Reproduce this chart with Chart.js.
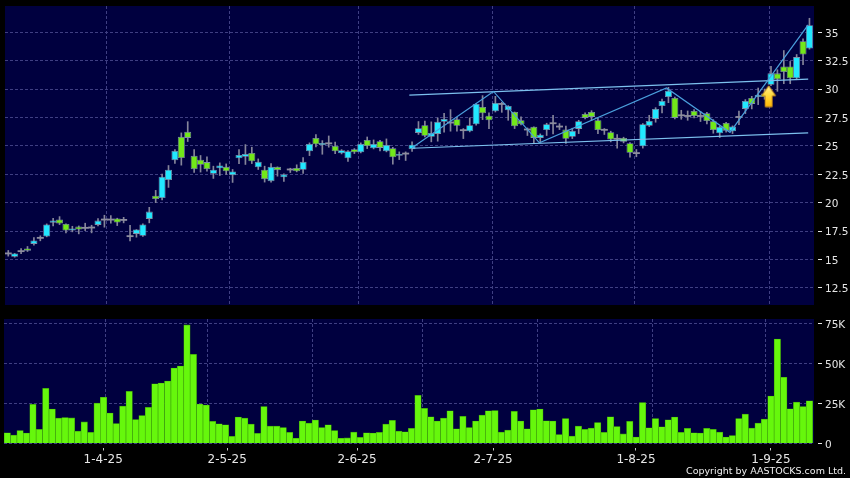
<!DOCTYPE html>
<html lang="en">
<head>
  <meta charset="UTF-8">
  <title>AASTOCKS chart</title>
  <script src="https://cdn.jsdelivr.net/npm/chart.js@4"></script>
  <style>
    html, body { margin: 0; padding: 0; background: #000; overflow: hidden; }
    canvas { position: absolute; left: 0; }
    #priceChart { top: 0; }
    #volumeChart { top: 310px; }
    #copyright {
      position: absolute; right: 4px; top: 465px;
      font: 9.5px "DejaVu Sans", sans-serif; color: #f0f0f0; white-space: nowrap;
    }
  </style>
</head>
<body>
  <canvas id="priceChart" width="850" height="310"></canvas>
  <canvas id="volumeChart" width="850" height="168"></canvas>
  <div id="copyright">Copyright by AASTOCKS.com Ltd.</div>

  <script>
    const opens = [
      15.50,15.23,15.70,15.96,16.37,16.87,17.02,18.22,18.51,18.13,
      17.54,17.89,17.75,17.78,18.04,18.48,18.48,18.60,18.45,17.02,
      17.25,17.08,18.57,20.61,20.41,21.99,23.74,25.79,26.23,24.12,
      23.77,23.57,22.54,23.03,23.15,22.42,23.91,24.03,24.38,23.12,
      22.89,21.89,23.15,22.24,22.89,23.06,22.89,24.53,25.69,25.08,
      25.19,24.99,24.35,23.91,24.70,24.44,25.52,24.79,25.40,24.53,
      24.79,24.12,24.29,24.71,26.14,26.81,25.79,26.05,27.11,27.02,
      27.34,26.35,26.29,26.90,28.42,27.66,28.04,28.66,28.13,27.98,
      27.25,26.41,26.67,25.70,26.40,26.96,26.67,26.43,25.79,26.49,
      27.81,27.98,27.25,26.38,26.20,25.59,25.70,25.23,24.33,24.97,
      26.76,27.37,28.51,29.30,29.21,27.66,27.60,28.07,27.60,27.87,
      27.16,26.11,27.02,26.29,27.51,28.25,29.21,29.30,29.60,30.38,
      31.38,31.99,31.99,30.94,34.21,33.57
    ];
    const closes = [
      15.56,15.53,15.76,15.76,16.67,16.93,18.07,18.42,18.16,17.54,
      17.72,17.63,17.81,17.84,18.42,18.54,18.54,18.25,18.51,17.08,
      17.63,18.07,19.21,20.32,22.28,22.89,24.56,23.92,25.70,22.95,
      23.33,22.95,22.89,23.27,22.77,22.74,24.20,24.29,23.65,23.59,
      22.07,23.15,22.86,22.48,22.95,22.77,23.59,25.17,25.14,25.26,
      25.25,24.53,24.61,24.53,24.44,25.17,24.99,25.17,24.82,25.08,
      24.00,24.29,24.35,25.09,26.55,25.88,26.14,27.11,27.37,27.08,
      26.76,26.41,26.81,28.69,27.87,27.25,28.77,28.72,28.51,26.73,
      26.90,26.47,25.70,25.97,26.90,27.02,26.73,25.62,26.32,27.17,
      27.46,27.55,26.40,26.44,25.56,25.65,25.35,24.39,24.39,26.90,
      27.19,28.25,28.95,29.85,27.46,27.72,27.66,27.63,27.66,27.19,
      26.40,26.67,26.32,26.70,27.57,28.95,28.69,29.47,29.30,31.38,
      30.85,31.49,30.94,32.81,33.04,35.61
    ];
    const highs = [
      15.79,15.53,15.96,16.14,16.93,17.08,18.13,18.63,18.77,18.13,
      17.92,17.95,18.19,18.01,18.60,18.89,18.86,18.63,18.71,18.01,
      17.63,18.13,19.59,21.08,22.51,23.27,24.68,26.14,27.13,24.68,
      24.15,24.03,23.21,23.50,23.41,22.92,24.67,25.11,24.88,23.85,
      23.21,23.44,23.15,22.54,23.03,23.33,23.97,25.26,25.99,25.46,
      25.87,25.34,24.67,24.58,24.76,25.26,25.78,25.52,25.49,25.61,
      24.88,24.47,24.47,25.35,27.14,27.17,27.11,27.46,27.87,28.19,
      27.52,26.52,27.46,28.69,29.42,27.90,29.36,28.83,28.54,27.98,
      27.55,26.58,26.67,26.05,26.99,27.69,26.96,26.73,26.55,27.25,
      27.90,28.10,27.43,26.52,26.29,26.00,25.76,25.29,24.68,26.96,
      27.69,28.36,29.12,30.15,29.30,28.13,28.07,28.19,28.04,27.95,
      27.31,26.73,27.08,26.76,28.07,29.07,29.36,30.09,30.00,31.99,
      31.70,33.39,32.43,33.04,34.42,36.23
    ];
    const lows = [
      15.29,15.20,15.50,15.70,16.26,16.64,16.99,17.95,18.07,17.34,
      17.43,17.25,17.54,17.34,17.95,17.84,18.19,17.98,18.22,16.64,
      16.96,17.02,18.22,20.00,20.23,21.34,23.45,23.30,25.38,22.66,
      22.69,22.78,22.13,22.39,22.48,21.78,23.44,23.36,23.44,22.92,
      21.81,21.81,22.33,21.86,22.65,22.71,22.57,24.14,24.91,24.26,
      24.88,24.32,24.29,23.62,24.32,24.38,24.76,24.73,24.55,24.47,
      23.38,23.79,23.71,24.50,26.00,25.79,25.35,25.41,26.20,26.29,
      26.29,25.64,26.23,26.81,27.31,26.52,27.98,27.95,27.25,26.52,
      26.84,25.91,25.21,25.26,25.91,26.05,26.43,25.21,25.64,26.08,
      27.37,27.25,26.08,26.00,25.35,24.80,25.26,24.01,24.04,24.80,
      26.70,27.08,27.90,28.80,27.37,27.34,27.25,27.46,27.14,26.93,
      26.11,25.73,26.20,26.08,26.87,27.84,28.25,28.63,29.10,30.29,
      29.80,30.47,30.47,30.82,32.14,33.51
    ];
    // thousands
    const volumes = [
      6.7,5.2,8.1,6.5,24.4,8.8,34.4,21.5,15.8,16.2,
      16,7.7,13.5,6.9,25.2,28.8,19,12.5,23.3,32.5,
      15,17.5,22.5,37.3,37.7,39,47.1,48.3,74,55.6,
      24.6,24,13.8,12.3,11.7,4.4,16.5,15.8,12.1,6.3,
      23.1,10.8,10.8,10,6.9,3.3,14,12.7,14.6,10,
      11.7,8.1,3.3,3.5,7.1,3.8,6.7,6.5,6.9,12.1,
      14.4,7.7,7.3,9.4,30,21.9,16.7,14,15.8,20.4,
      9.2,16.9,10,14,17.7,20.4,20.6,7.1,8.3,20,
      14,9.2,21,21.5,14.2,14,5.6,15.6,4.6,10.8,
      8.8,9.6,13.1,6.9,16.7,10.6,6,13.8,4,25.6,
      9.8,15.6,10.4,14.8,16.5,6.9,9.4,6.7,6.5,9.4,
      8.8,7.1,4,5,15.6,18.3,9.6,12.7,15.2,29.6,
      65.2,41.3,21.7,25.8,23.1,26.7
    ];

    const priceTicks = [12.5, 15, 17.5, 20, 22.5, 25, 27.5, 30, 32.5, 35];
    const volumeTicks = [0, 25, 50, 75];
    const dateLabels = ['1-4-25', '2-5-25', '2-6-25', '2-7-25', '1-8-25', '1-9-25'];
    const dateTickAt = [14.95, 34.27, 54.5, 75.7, 97.97, 119];
    const dateGridAt = [15.37, 34.58, 54.58, 75.55, 97.66, 118.69];

    const zigzagX = [63, 75.7, 82.87, 102.7, 112.6, 124.8];
    const zigzagY = [24.83, 29.79, 25.26, 30.09, 26.19, 35.64];
    const channelTopX = [62.57, 124.8];
    const channelTopY = [29.47, 30.88];
    const channelBottomX = [63, 124.8];
    const channelBottomY = [24.79, 26.14];
    const arrowX = [118.64];
    const arrowY = [29.37];

    const XMIN = -0.51, XMAX = 125.71;
    const GRID = '#3f3f82', TEXT = '#e6e6e6';
    const UP = '#22e8ff', DOWN = '#72e81a', FLAT = '#8d8d9e', EDGE = '#7f90a8';
    const LINE = '#4a9fdc', CHANNEL = '#7cc0ee';
    const GRID_DASH = [3, 2];

    const font = { family: '"DejaVu Sans", sans-serif', size: 10.5 };

    const panelBg = {
      id: 'panelBg',
      beforeDraw(chart) {
        const a = chart.chartArea;
        chart.ctx.fillStyle = '#00003f';
        chart.ctx.fillRect(a.left, a.top, a.width, a.height);
      }
    };

    const points = (xs, ys) => xs.map((x, i) => ({ x: x, y: ys[i] }));

    function setTicks(values) {
      return scale => { scale.ticks = values.map(v => ({ value: v })); };
    }

    // right axis keeps a fixed width and does not push the plot in for its labels
    function fitRightAxis(scale) {
      scale.width = 36;
      scale.paddingTop = 0;
      scale.paddingBottom = 0;
    }

    function makeArrow() {
      const c = document.createElement('canvas');
      c.width = 16;
      c.height = 23;
      const g = c.getContext('2d');
      const fill = g.createLinearGradient(0, 0, 0, 23);
      fill.addColorStop(0, '#fff0a0');
      fill.addColorStop(0.45, '#ffdc40');
      fill.addColorStop(1, '#ffb400');
      g.fillStyle = fill;
      g.strokeStyle = '#c88a18';
      g.beginPath();
      g.moveTo(8, 1);
      g.lineTo(15, 11);
      g.lineTo(11.5, 11);
      g.lineTo(11.5, 22);
      g.lineTo(4.5, 22);
      g.lineTo(4.5, 11);
      g.lineTo(1, 11);
      g.closePath();
      g.fill();
      g.stroke();
      return c;
    }

    function candleColor(i) {
      if (Math.abs(closes[i] - opens[i]) < 0.07) return FLAT;
      return closes[i] > opens[i] ? UP : DOWN;
    }

    // flat candles are too thin to show, so give them a visible bar
    function bodyRange(i) {
      if (candleColor(i) === FLAT) return [opens[i] - 0.05, closes[i] + 0.05];
      return [opens[i], closes[i]];
    }

    function trendLine(xs, ys, color) {
      return {
        type: 'line',
        data: points(xs, ys),
        borderColor: color,
        borderWidth: 1.2,
        pointRadius: 0,
        tension: 0,
        order: 1
      };
    }

    const candleIdx = opens.map((_, i) => i);

    new Chart(document.getElementById('priceChart'), {
      type: 'bar',
      data: {
        datasets: [
          {
            // wicks
            data: candleIdx.map(i => ({ x: i, y: [lows[i], highs[i]] })),
            backgroundColor: '#85859a',
            grouped: false,
            maxBarThickness: 1,
            categoryPercentage: 1,
            barPercentage: 1,
            order: 3
          },
          {
            // bodies
            data: candleIdx.map(i => ({ x: i, y: bodyRange(i) })),
            backgroundColor: candleIdx.map(candleColor),
            borderColor: candleIdx.map(i => candleColor(i) === FLAT ? FLAT : EDGE),
            borderWidth: candleIdx.map(i => candleColor(i) === FLAT ? 0 : 0.8),
            borderSkipped: false,
            grouped: false,
            maxBarThickness: 7,
            categoryPercentage: 1,
            barPercentage: 1.1,
            order: 2
          },
          trendLine(zigzagX, zigzagY, LINE),
          trendLine(channelTopX, channelTopY, CHANNEL),
          trendLine(channelBottomX, channelBottomY, CHANNEL),
          {
            type: 'line',
            data: points(arrowX, arrowY),
            showLine: false,
            pointStyle: makeArrow(),
            order: 0
          }
        ]
      },
      options: {
        responsive: false,
        animation: false,
        layout: { padding: { left: 4, top: 6, bottom: 3 } },
        plugins: { legend: { display: false }, tooltip: { enabled: false } },
        scales: {
          x: {
            type: 'linear',
            min: XMIN,
            max: XMAX,
            offset: false,
            afterBuildTicks: setTicks(dateGridAt),
            afterFit: scale => { scale.height = 0; },
            grid: { offset: false, color: GRID, drawTicks: false },
            border: { display: false, dash: GRID_DASH },
            ticks: { display: false, autoSkip: false }
          },
          y: {
            position: 'right',
            min: 10.99,
            max: 37.31,
            afterBuildTicks: setTicks(priceTicks),
            afterFit: fitRightAxis,
            grid: { color: GRID, tickColor: TEXT, tickLength: 8, tickBorderDash: [0, 4, 4, 20] },
            border: { display: false, dash: GRID_DASH },
            ticks: { color: TEXT, font: font, padding: 3, labelOffset: 1.7, autoSkip: false, callback: v => String(v) }
          }
        }
      },
      plugins: [panelBg]
    });

    new Chart(document.getElementById('volumeChart'), {
      type: 'bar',
      data: {
        datasets: [{
          data: candleIdx.map(i => ({ x: i, y: volumes[i] })),
          backgroundColor: '#66f70c',
          borderColor: '#3d9e0c',
          borderWidth: 0.6,
          grouped: false,
          maxBarThickness: 6.4,
          categoryPercentage: 1,
          barPercentage: 1
        }]
      },
      options: {
        responsive: false,
        animation: false,
        layout: { padding: { left: 4, top: 9 } },
        plugins: { legend: { display: false }, tooltip: { enabled: false } },
        scales: {
          x: {
            type: 'linear',
            min: XMIN,
            max: XMAX,
            offset: false,
            afterBuildTicks: setTicks(dateTickAt),
            afterFit: scale => { scale.height = 34.5; },
            grid: { offset: false, drawOnChartArea: false, tickColor: '#c8c8c8', tickLength: 7, tickBorderDash: [0, 4, 3, 20] },
            border: { display: false },
            ticks: {
              color: TEXT,
              font: { family: font.family, size: 12 },
              autoSkip: false,
              maxRotation: 0,
              padding: 2,
              callback: (v, i) => dateLabels[i]
            }
          },
          xGrid: {
            type: 'linear',
            axis: 'x',
            position: 'bottom',
            min: XMIN,
            max: XMAX,
            afterBuildTicks: setTicks(dateGridAt),
            afterFit: scale => { scale.height = 0; },
            grid: { color: GRID, drawTicks: false },
            border: { display: false, dash: GRID_DASH },
            ticks: { display: false, autoSkip: false }
          },
          y: {
            position: 'right',
            min: 0,
            max: 77.69,
            afterBuildTicks: setTicks(volumeTicks),
            afterFit: fitRightAxis,
            grid: { color: GRID, tickColor: TEXT, tickLength: 8, tickBorderDash: [0, 4, 4, 20] },
            border: { display: false, dash: GRID_DASH },
            ticks: { color: TEXT, font: font, padding: 3, labelOffset: 1.7, autoSkip: false, callback: v => v === 0 ? '0' : v + 'K' }
          }
        }
      },
      plugins: [panelBg]
    });
  </script>
</body>
</html>
